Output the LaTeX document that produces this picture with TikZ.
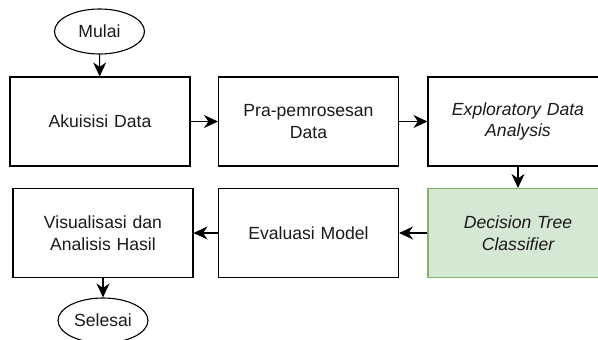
\documentclass[tikz,border=0pt]{standalone}
\usepackage{fontspec}
\setmainfont{Liberation Sans}
\usetikzlibrary{arrows.meta,shapes.geometric}
\definecolor{gfill}{HTML}{D5E8D4}
\definecolor{gline}{HTML}{82B366}
\definecolor{txt}{HTML}{1A1A1A}
\tikzset{
  base/.style={draw=black, line width=1.1pt, align=center, inner sep=0pt, text=txt,
    font=\fontsize{17.6}{21.5}\selectfont},
  procbox/.style={base, rectangle, minimum width=180pt, minimum height=89pt, text width=170pt},
  termnode/.style={base, ellipse, minimum width=90pt, minimum height=45pt},
  greenbox/.style={procbox, fill=gfill, draw=gline},
  flow/.style={draw=black, line width=1.1pt, -{Stealth[length=14pt,width=13pt,inset=4.5pt]}},
}
\begin{document}
\begin{tikzpicture}[x=1pt,y=-1pt]
\useasboundingbox (0,0) rectangle (598,340);
\clip (0,0) rectangle (598,340);
\fill[white] (0,0) rectangle (598,340);
\node[termnode] (mulai) at (99.5,31.5) {Mulai};
\node[procbox] (akuisisi) at (100,121.5) {Akuisisi Data};
\node[procbox] (pra) at (308.5,121.5) {Pra-pemrosesan\\Data};
\node[procbox] (eda) at (518,121.5) {\itshape Exploratory Data\\\itshape Analysis};
\node[greenbox] (dtc) at (518,233) {\itshape Decision Tree\\\itshape Classifier};
\node[procbox] (eval) at (308.5,233) {Evaluasi Model};
\node[procbox] (vis) at (103,233) {Visualisasi dan\\Analisis Hasil};
\node[termnode] (selesai) at (103,320.5) {Selesai};
\draw[flow] (mulai) -- (akuisisi);
\draw[flow] (akuisisi) -- (pra);
\draw[flow] (pra) -- (eda);
\draw[flow] (eda) -- (dtc);
\draw[flow] (dtc) -- (eval);
\draw[flow] (eval) -- (vis);
\draw[flow] (vis) -- (selesai);
\end{tikzpicture}
\end{document}
